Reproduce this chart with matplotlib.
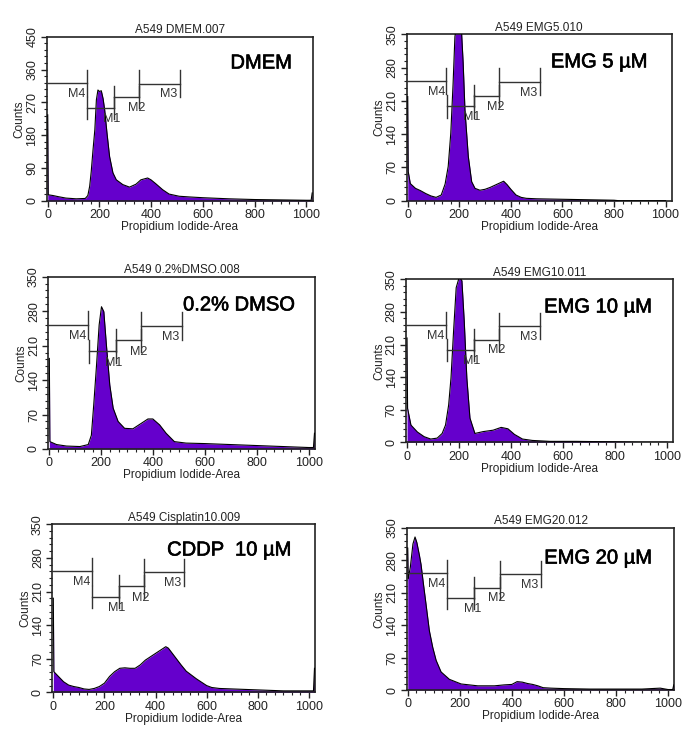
import matplotlib
matplotlib.use("Agg")
import matplotlib.pyplot as plt
import matplotlib.transforms as mtransforms
import matplotlib.patheffects as pe
from matplotlib.ticker import AutoMinorLocator

plt.rcParams['font.family'] = ['Liberation Sans', 'DejaVu Sans']

# ---------------- data ----------------
titles = ["A549 DMEM.007", "A549 EMG5.010", "A549 0.2%DMSO.008",
          "A549 EMG10.011", "A549 Cisplatin10.009", "A549 EMG20.012"]
conditions = ["DMEM", "EMG 5 \u00b5M", "0.2% DMSO",
              "EMG 10 \u00b5M", "CDDP  10 \u00b5M", "EMG 20 \u00b5M"]
y_max = [450, 350, 350, 350, 350, 350]
y_step = [90, 70, 70, 70, 70, 70]
x_ticks = [0, 200, 400, 600, 800, 1000]

dmem_x = [0, 2, 20, 40, 70, 110, 145, 155, 162, 168, 175, 182, 188, 194, 200, 207,
          214, 220, 229, 239, 252, 265, 290, 316, 341, 360, 386, 399, 418, 444, 469,
          508, 550, 600, 700, 800, 900, 1000, 1018, 1022]
dmem_y = [236, 17, 15, 12, 8, 6, 7, 15, 40, 80, 140, 195, 277, 304, 300, 302,
          280, 250, 186, 122, 77, 58, 45, 38, 46, 58, 63, 58, 47, 31, 19,
          13, 11, 9, 6, 4, 3, 2, 2, 22]

emg5_x = [0, 2, 10, 30, 50, 70, 90, 110, 130, 145, 157, 167, 176, 183, 190, 200, 209,
          215, 222, 235, 248, 261, 280, 300, 320, 340, 360, 372, 385, 400, 420, 440,
          460, 500, 600, 700, 800, 820, 1000]
emg5_y = [219, 61, 36, 26, 21, 15, 10, 7, 12, 35, 72, 142, 247, 345, 370, 375, 352,
          290, 191, 93, 40, 26, 22, 24, 28, 33, 38, 41, 34, 24, 12, 7,
          5, 4, 3, 2, 1, 0, 0]

dmso_x = [0, 2, 28, 66, 118, 150, 162, 171, 182, 192, 201, 210, 220, 233, 246, 265,
          290, 322, 354, 380, 399, 425, 450, 482, 527, 600, 700, 800, 900, 1000,
          1018, 1022]
dmso_y = [184, 15, 9, 6, 5, 9, 28, 89, 171, 252, 289, 279, 211, 130, 83, 56,
          42, 41, 52, 61, 61, 49, 32, 15, 12, 11, 9, 7, 5, 3, 3, 32]

emg10_x = [0, 2, 15, 40, 66, 91, 116, 135, 148, 160, 169, 179, 189, 201, 211, 220,
           230, 242, 261, 293, 331, 362, 388, 413, 444, 482, 550, 650, 800, 900, 1000]
emg10_y = [224, 73, 37, 22, 12, 7, 9, 19, 37, 80, 138, 239, 332, 355, 347, 260,
           138, 52, 19, 23, 26, 32, 29, 17, 7, 4, 2, 2, 1, 0, 0]

cddp_x = [0, 2, 20, 40, 60, 80, 100, 120, 140, 160, 180, 200, 220, 240, 260, 280,
          300, 320, 340, 360, 380, 400, 420, 440, 450, 460, 480, 500, 520, 540, 560,
          580, 600, 620, 650, 700, 800, 900, 1000, 1018, 1022]
cddp_y = [196, 43, 33, 22, 15, 12, 10, 7, 6, 8, 12, 19, 33, 43, 50, 51,
          50, 50, 57, 67, 74, 81, 88, 95, 92, 85, 71, 57, 44, 36, 28,
          21, 14, 10, 8, 7, 5, 3, 3, 3, 50]

emg20_x = [0, 2, 10, 20, 28, 35, 45, 51, 60, 70, 83, 96, 109, 128, 160, 205, 269,
           333, 370, 400, 420, 440, 460, 480, 500, 520, 550, 600, 700, 800, 900,
           970, 1000, 1018, 1022]
emg20_y = [306, 240, 265, 315, 330, 318, 290, 271, 230, 186, 128, 92, 64, 39, 23, 13, 9,
           9, 11, 12, 18, 17, 14, 12, 9, 5, 4, 3, 2, 2, 2,
           4, 1, 1, 11]

series_x = [dmem_x, emg5_x, dmso_x, emg10_x, cddp_x, emg20_x]
series_y = [dmem_y, emg5_y, dmso_y, emg10_y, cddp_y, emg20_y]

gate_names = ["M4", "M1", "M2", "M3"]
gate_start = [0, 152, 256, 354]
gate_end = [150, 256, 354, 512]

# ---------------- layout ----------------
W, H = 686, 731
boxes = [  # left, right, top, bottom (pixels)
    (46.7, 312.7, 36.7, 201),
    (406.7, 671.7, 34.3, 200.7),
    (48.3, 315, 276.7, 449),
    (406, 673.3, 279.3, 442.3),
    (52.3, 315, 524.3, 692.3),
    (406.7, 674.3, 527.7, 690),
]
cond_pos = [(0.806, 0.84), (0.726, 0.834), (0.715, 0.836),
            (0.718, 0.83), (0.673, 0.847), (0.715, 0.813)]
gate_level = [0.72, 0.567, 0.63, 0.715]
gate_half = [0.08, 0.067, 0.067, 0.08]
gate_label_dx = [-39, -8, -11, -44]

purple = "#6500CC"
ink = "#222222"
medium = [pe.withStroke(linewidth=0.45, foreground="black")]

fig = plt.figure(figsize=(W / 100, H / 100), dpi=100)
fig.patch.set_facecolor("white")

for i in range(6):
    l, r, t, b = boxes[i]
    ax = fig.add_axes([l / W, 1 - b / H, (r - l) / W, (b - t) / H])
    ax.fill_between(series_x[i], series_y[i], 0, color=purple, lw=0, zorder=2)
    ax.plot(series_x[i], series_y[i], color="black", lw=0.8, zorder=3)
    ax.set_xlim(-4, 1024)
    ax.set_ylim(0, y_max[i])
    ax.set_xticks(x_ticks)
    ax.set_yticks(list(range(0, y_max[i] + 1, y_step[i])))
    ax.xaxis.set_minor_locator(AutoMinorLocator(6))
    ax.yaxis.set_minor_locator(AutoMinorLocator(5))
    ax.tick_params(axis="both", which="major", direction="out", length=4.5,
                   width=1.0, labelsize=9, pad=1.5, color=ink, labelcolor=ink)
    ax.tick_params(axis="both", which="minor", direction="out", length=2.2,
                   width=0.8, color=ink)
    ax.tick_params(axis="y", labelrotation=90)
    for lbl in ax.get_yticklabels():
        lbl.set_va("center")
    for sp in ax.spines.values():
        sp.set_linewidth(1.2)
        sp.set_color(ink)
    ax.set_title(titles[i], fontsize=8.5, pad=2.5, color=ink)
    ax.set_xlabel("Propidium Iodide-Area", fontsize=8.5, labelpad=0, color=ink)
    ax.set_ylabel("Counts", fontsize=8.5, labelpad=0.5, color=ink)

    trans = mtransforms.blended_transform_factory(ax.transData, ax.transAxes)
    for g in range(4):
        x0, x1 = gate_start[g], gate_end[g]
        yl, hh = gate_level[g], gate_half[g]
        ax.plot([x0, x1], [yl, yl], color="#333333", lw=1.0, transform=trans, zorder=4)
        if x0 > 0:
            ax.plot([x0, x0], [yl - hh, yl + hh], color="#333333", lw=1.0,
                    transform=trans, zorder=4)
        ax.plot([x1, x1], [yl - hh, yl + hh], color="#333333", lw=1.0,
                transform=trans, zorder=4)
        ax.text(x1 + gate_label_dx[g], yl - 0.066, gate_names[g], transform=trans,
                fontsize=9, ha="center", va="center", color="#333333", zorder=5)

    cx, cy = cond_pos[i]
    ax.text(cx, cy, conditions[i], transform=ax.transAxes, fontsize=14.5,
            ha="center", va="center", color="black", zorder=6, path_effects=medium)

fig.savefig("out.png", dpi=100, facecolor="white")
